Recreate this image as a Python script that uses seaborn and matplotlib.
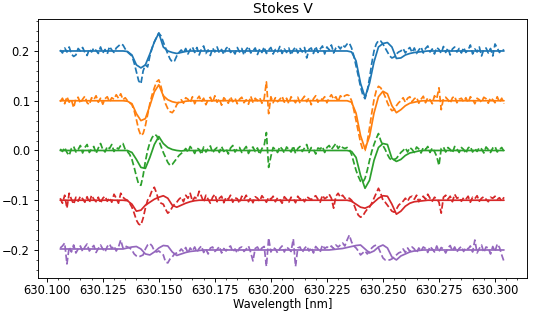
import numpy as np
import seaborn as sns
import matplotlib
matplotlib.use('Agg')
import matplotlib.pyplot as plt

sns.set_style("ticks")
plt.rcParams['font.family'] = 'DejaVu Sans'
plt.rcParams.update({'text.color': 'black', 'axes.labelcolor': 'black',
                     'xtick.color': 'black', 'ytick.color': 'black',
                     'axes.edgecolor': 'black'})

# === data: Stokes V in units of 1e-3, relative to each curve's offset ===
offsets = [0.2, 0.1, 0.0, -0.1, -0.2]
colors = ['tab:blue', 'tab:orange', 'tab:green', 'tab:red', 'tab:purple']

# observed profiles, 0.001 nm steps from 630.106 nm
obs_start, obs_step = 630.106, 0.001
# model fits, 0.002 nm steps from 630.106 nm
mod_start, mod_step = 630.106, 0.002

obs_blue = [
    2, -4, 6, -2, 8, -6, -11, -8, 5, 0, 7, -3, -9, 4, -2, 6, 1, -5, 8, -4,
    3, -6, 9, 2, -3, 6, 10, 14, 12, 4, -2, -6, -10, -24, -42, -60, -66, -40, -28, -32,
    -10, 6, 18, 28, 36, 30, 18, 6, -6, -16, -22, -20, -10, -3, 2, -4, 5, -6, 3, 8,
    -3, 7, -8, 4, 10, -5, 2, -9, 6, -2, 8, -4, 3, -7, 5, 9, -3, 1, -6, 7,
    -2, 5, -8, 3, 9, -4, 0, 6, -7, 4, -3, 8, -5, 2, 7, -6, 3, -2, 9, -5,
    4, -3, 6, -8, 2, 8, -4, 5, -2, 7, -14, 3, 6, -5, 9, -3, 4, 10, -6, 8,
    2, 12, -4, 6, 10, 4, 12, 8, 14, 16, 6, -10, -30, -50, -72, -88, -96, -80, -55, -25,
    0, 14, 21, 20, 14, 6, -2, -10, -14, -12, -6, -2, 0, 5, -4, 3, 7, -3, 6, -5,
    2, 8, -4, 5, 10, -2, 4, -6, 7, 3, -5, 9, -3, 6, -8, 4, 8, -2, 5, -4,
    7, -3, 2, 12, -6, 4, -2, 8, -10, 3, 6, -4, 5, -10, 14, 6, -3, 4, 1,
]
obs_orange = [
    -2, 5, -6, 8, -3, 2, -14, 4, 7, -5, 3, 9, -4, -8, 6, 2, 10, -3, 5, -7,
    4, 8, -2, 6, 3, 12, 5, 14, 2, 6, 0, -4, -8, -20, -38, -58, -70, -66, -50, -28,
    -6, 12, 26, 38, 42, 28, 10, -6, -16, -22, -24, -18, -8, -2, 2, -5, 6, 3, -4, 8,
    -6, 3, 9, -2, 5, -8, 2, 7, -4, 10, -3, 4, -9, 6, 1, -5, 8, -2, 5, -6,
    3, 7, -4, 2, -7, 9, -3, 5, 0, 6, -5, 4, 38, -26, 8, -4, 6, -2, 3, 9,
    -3, 5, -6, 8, 2, -4, 7, -5, 3, 9, -2, 6, -8, 4, 10, -3, 5, 2, 8, -4,
    6, 12, 3, 8, -2, 10, 6, 10, 12, 10, 0, -18, -40, -62, -84, -98, -100, -82, -55, -25,
    2, 20, 29, 26, 18, 8, -4, -14, -20, -18, -10, -4, 0, 6, -3, 5, 8, -2, 4, 7,
    -5, 3, 9, -4, 6, 2, -6, 10, 4, 26, -18, 5, 7, 2, -5, 6, 9, -4, 3, 5,
    -2, 6, -4, 8, 3, -6, 5, 2, -3, 7, 4, -5, 6, 2, -4, 8, -3, 5, -6,
]
obs_green = [
    3, -2, 6, -4, -10, 4, 8, -3, 2, 10, -5, 6, 12, -4, 3, 8, -6, 5, 14, 2,
    -3, 8, 4, 12, -2, 6, 3, 10, 14, 2, -2, -8, -18, -34, -52, -68, -70, -50, -22, 0,
    16, 26, 32, 30, 20, 8, -4, -14, -24, -30, -28, -22, -16, -10, -6, -2, 4, -3, 8, 2,
    -6, 5, 2, -8, 7, -3, 4, 9, -5, 2, 6, -4, 8, -2, 3, -7, 5, 10, -3, 4,
    6, -4, 2, 8, -6, 3, 7, -2, 5, -8, 4, 10, 36, -34, -12, 6, 2, -4, 8, 3,
    -5, 7, 2, -3, 9, -6, 4, 8, -2, 5, 12, -4, 6, 2, -7, 5, 3, 8, -4, 6,
    10, 2, 8, 14, 4, 10, 6, 4, 6, 2, -8, -24, -40, -52, -62, -64, -56, -40, -20, -2,
    12, 24, 34, 20, 10, 2, -8, -16, -20, -18, -16, -10, -4, 0, 5, -3, 6, 2, -4, 7,
    3, -5, 6, 2, 8, -4, 5, -2, -12, -30, 4, 7, -3, 6, 2, -5, 8, 3, -4, 6,
    2, -6, 5, 8, -3, 4, -2, 6, 3, -5, 7, 2, -4, 5, 8, -3, 2, 6, -2,
]
obs_red = [
    4, -6, 10, -16, 14, 2, -8, 6, -2, 8, 3, -4, 7, -5, 10, 2, -3, 6, -6, 4,
    8, -2, 5, -4, 12, 4, -6, 14, 6, 2, 0, -6, -14, -26, -40, -48, -50, -36, -16, 0,
    8, 20, 26, 14, -2, -6, -8, -18, -26, -22, -14, -8, -4, 2, 6, -3, 10, 4, 14, -2,
    6, 3, 18, 8, -4, 10, 2, -6, 6, 12, -3, 4, 8, -5, 6, 2, 10, -4, 5, 3,
    -6, 8, 2, 10, -3, 5, -5, 7, 4, -2, 9, 3, -4, 6, 2, 8, -3, 5, 1, -6,
    7, 2, -4, 6, 3, -5, 8, 2, 5, -3, 7, 4, 1, 6, 9, 2, -4, 10, 3, 6,
    12, 4, -16, 8, 14, 6, 10, 4, 2, 4, 0, -8, -20, -30, -34, -32, -24, -18, -14, -6,
    4, 14, 24, 14, 0, -4, -10, -16, -22, -24, -18, -10, -6, -2, 4, -2, 6, 8, 2, 10,
    -3, 5, 8, 2, 12, 4, -2, 6, 3, -4, -26, 6, 10, 2, 8, -3, 12, 4, 6, -2,
    5, 2, 8, -4, 6, 3, 9, -2, 4, 7, 2, -3, 6, 4, 8, 2, 5, -2, 6,
]
obs_purple = [
    4, 8, 14, -28, 6, -4, 10, -6, 2, 8, -3, 6, 12, -2, 4, 9, -5, 3, 10, 2,
    -4, 7, 12, 3, 8, -2, 6, 20, 4, 8, 6, 4, 0, -8, -12, -14, -12, -10, 2, 10,
    13, 8, -2, -4, -2, -6, -10, -24, -26, -18, -14, -8, -6, -4, 2, -3, 5, -6, 4, -2,
    6, -4, 3, 8, -5, 2, -8, 4, 6, -3, 1, 7, -6, 3, -2, 5, 8, -4, 2, -6,
    4, 6, -3, 2, 8, -5, -22, 3, 6, -2, 4, 7, -33, 24, -4, 5, 2, -6, 3, 8,
    -4, 6, 2, -3, 22, -33, 4, 6, -5, 3, 8, -2, 5, -6, 7, 2, -4, 10, 3, 6,
    4, 8, 2, 10, 6, 10, 14, 8, 20, 30, 16, 8, 4, -2, -10, -6, -2, -8, -2, 4,
    8, 10, 4, -6, -16, -20, -20, -20, -18, -14, -10, -6, -4, 2, -5, 4, -3, 6, 2, -6,
    4, -2, 6, 3, -5, 7, 2, -4, 8, -3, 5, 2, -6, 4, 9, -2, 6, -4, 3, 7,
    -3, 5, 2, 8, -4, 20, -6, 3, 10, -5, 6, 4, -8, 7, -3, 12, 5, -10, -23,
]

mod_blue = [
    0, 0, 0, 0, 0, 0, 0, 0, 0, 0, 0, 0, 0, 0, 0, -1, -8, -28, -34, -28,
    -6, 18, 36, 8, 0, -3, -5, -3, -1, 0, 0, 0, 0, 0, 0, 0, 0, 0, 0, 0,
    0, 0, 0, 0, 0, 0, 0, 0, 0, 0, 0, 0, 0, 0, 0, 0, 0, 0, 0, 0,
    0, 0, 0, 0, 0, -2, -20, -65, -93, -65, -22, 8, 15, 17, 8, -15, -14, -8, -5, -3,
    -2, -1, 0, 0, 0, 0, 0, 0, 0, 0, 0, 0, 0, 0, 0, 0, 0, 0, 0, 0,
]
mod_orange = [
    0, 0, 0, 0, 0, 0, 0, 0, 0, 0, 0, 0, 0, 0, 0, -1, -6, -26, -40, -36,
    -10, 18, 32, 10, 2, -2, -4, -3, -1, 0, 0, 0, 0, 0, 0, 0, 0, 0, 0, 0,
    0, 0, 0, 0, 0, 0, 0, 0, 0, 0, 0, 0, 0, 0, 0, 0, 0, 0, 0, 0,
    0, 0, 0, 0, 0, -3, -25, -70, -97, -72, -25, 8, 19, 14, -10, -24, -18, -10, -5, -3,
    -1, 0, 0, 0, 0, 0, 0, 0, 0, 0, 0, 0, 0, 0, 0, 0, 0, 0, 0, 0,
]
mod_green = [
    0, 0, 0, 0, 0, 0, 0, 0, 0, 0, 0, 0, 0, 0, 0, 0, -4, -18, -34, -36,
    -14, 12, 28, 14, 6, 2, 0, -1, 0, 0, 0, 0, 0, 0, 0, 0, 0, 0, 0, 0,
    0, 0, 0, 0, 0, 0, 0, 0, 0, 0, 0, 0, 0, 0, 0, 0, 0, 0, 0, 0,
    0, 0, 0, 0, 0, -2, -14, -50, -76, -60, -20, 6, 14, 12, -16, -22, -18, -10, -5, -3,
    -1, 0, 0, 0, 0, 0, 0, 0, 0, 0, 0, 0, 0, 0, 0, 0, 0, 0, 0, 0,
]
mod_red = [
    0, 0, 0, 0, 0, 0, 0, 0, 0, 0, 0, 0, 0, 0, 0, -1, -8, -22, -20, -10,
    -4, 2, 6, 9, 4, -10, -14, -10, -6, -3, -1, 0, 0, 0, 0, 0, 0, 0, 0, 0,
    0, 0, 0, 0, 0, 0, 0, 0, 0, 0, 0, 0, 0, 0, 0, 0, 0, 0, 0, 0,
    0, 0, 0, 0, 0, -2, -8, -14, -16, -12, -4, 4, 9, 8, -8, -28, -22, -12, -6, -3,
    -2, -1, 0, 0, 0, 0, 0, 0, 0, 0, 0, 0, 0, 0, 0, 0, 0, 0, 0, 0,
]
mod_purple = [
    2, 2, 2, 2, 2, 2, 2, 2, 2, 2, 2, 2, 2, 2, 2, 4, 6, 7, 2, -8,
    -10, -4, 4, 9, 8, -4, -11, -8, -5, -3, -2, -1, 0, 0, 0, 0, 0, 0, 0, 0,
    0, 0, 0, 0, 0, 0, 0, 0, 0, 0, 0, 0, 0, 0, 0, 0, 0, 0, 0, 0,
    0, 1, 2, 3, 5, 7, 9, 10, 2, -6, -2, 6, 10, 4, -14, -20, -12, -8, -4, -2,
    -1, 0, 0, 0, 0, 0, 0, 0, 0, 0, 0, 0, 0, 0, 0, 0, 0, 0, 0, 0,
]

observed = [obs_blue, obs_orange, obs_green, obs_red, obs_purple]
models = [mod_blue, mod_orange, mod_green, mod_red, mod_purple]

# === plot ===
fig, ax = plt.subplots(figsize=(534 / 83, 315 / 83), dpi=83)
fig.subplots_adjust(left=0.0712, right=0.987, top=0.9397, bottom=0.1175)

for off, obs, mod, c in zip(offsets, observed, models, colors):
    wl_obs = obs_start + obs_step * np.arange(len(obs))
    wl_mod = mod_start + mod_step * np.arange(len(mod))
    sns.lineplot(x=wl_obs, y=off + np.array(obs) / 1000, color=c, linestyle='--',
                 linewidth=1.5, estimator=None, ax=ax)
    sns.lineplot(x=wl_mod, y=off + np.array(mod) / 1000, color=c,
                 linewidth=1.5, estimator=None, ax=ax)

ax.set_xlim(630.0961, 630.3143)
ax.set_ylim(-0.2563, 0.2643)
ax.set_xticks(np.arange(630.100, 630.3001, 0.025))
ax.ticklabel_format(useOffset=False)
ax.xaxis.set_major_formatter(matplotlib.ticker.FormatStrFormatter('%.3f'))
ax.minorticks_on()
ax.tick_params(axis='x', which='major', pad=1.5)
ax.set_title("Stokes V", pad=5)
ax.set_xlabel("Wavelength [nm]", labelpad=1)
ax.set_ylabel("")

fig.savefig("out.png", dpi=83)
